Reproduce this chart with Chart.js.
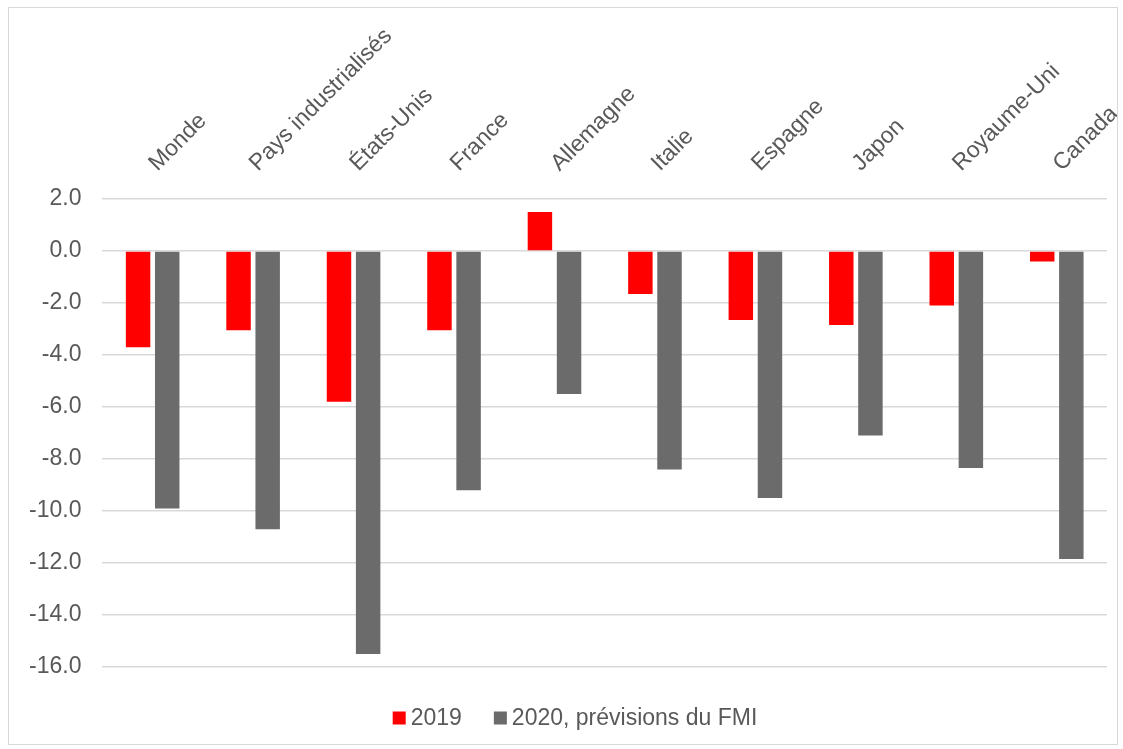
<!DOCTYPE html>
<html lang="fr">
<head>
<meta charset="utf-8">
<script src="https://cdn.jsdelivr.net/npm/chart.js@4"></script>
<style>
    html, body { margin: 0; padding: 0; background: #fff; }
    #wrap {
        position: absolute;
        left: 8px; top: 7px;
        width: 1108px; height: 736px;
        border: 1px solid #d9d9d9;
    }
</style>
</head>
<body>
<div id="wrap"><canvas id="chart"></canvas></div>
<script>
// Croissance du PIB (%)
const categories = ['Monde', 'Pays industrialisés', 'États-Unis', 'France', 'Allemagne', 'Italie', 'Espagne', 'Japon', 'Royaume-Uni', 'Canada'];
const values2019 = [-3.7, -3.05, -5.8, -3.05, 1.5, -1.65, -2.65, -2.85, -2.1, -0.4];
const values2020 = [-9.9, -10.7, -15.5, -9.2, -5.5, -8.4, -9.5, -7.1, -8.35, -11.85];
const seriesLabels = ['2019', '2020, prévisions du FMI'];

const family = '"Liberation Sans", Arial, sans-serif';
const textColor = '#595959';

// Legende facon Excel : petit carre colle au texte, centree sous le graphique
const bottomLegend = {
    id: 'bottomLegend',
    afterDraw: function(chart) {
        const ctx = chart.ctx;
        const box = 13, gap = 5, spacing = 32;
        ctx.save();
        ctx.font = '23px ' + family;
        ctx.textBaseline = 'middle';
        const items = chart.data.datasets.map(function(ds) {
            return { text: ds.label, color: ds.backgroundColor, w: ctx.measureText(ds.label).width };
        });
        let total = spacing * (items.length - 1);
        items.forEach(function(it) { total += box + gap + it.w; });
        let x = chart.width / 2 + 12 - total / 2;
        const y = chart.chartArea.bottom + 51;
        items.forEach(function(it) {
            ctx.fillStyle = it.color;
            ctx.fillRect(x, y - box / 2, box, box);
            ctx.fillStyle = textColor;
            ctx.fillText(it.text, x + box + gap, y + 1);
            x += box + gap + it.w + spacing;
        });
        ctx.restore();
    }
};

document.addEventListener('DOMContentLoaded', function() {
    new Chart(document.getElementById('chart'), {
        type: 'bar',
        data: {
            labels: categories,
            datasets: [
                {
                    label: seriesLabels[0],
                    data: values2019,
                    backgroundColor: '#ff0000',
                    categoryPercentage: 0.58,
                    barPercentage: 0.84
                },
                {
                    label: seriesLabels[1],
                    data: values2020,
                    backgroundColor: '#6b6b6b',
                    categoryPercentage: 0.58,
                    barPercentage: 0.84
                }
            ]
        },
        plugins: [bottomLegend],
        options: {
            responsive: true,
            maintainAspectRatio: false,
            animation: false,
            layout: { padding: { left: 20, right: 10, top: 0, bottom: 77 } },
            plugins: {
                legend: { display: false },
                tooltip: { enabled: false }
            },
            scales: {
                x: {
                    position: 'top',
                    grid: { display: false },
                    border: { display: false },
                    ticks: {
                        font: { family: family, size: 23 },
                        color: textColor,
                        minRotation: 45,
                        maxRotation: 45,
                        autoSkip: false,
                        padding: 14,
                        labelOffset: 20
                    },
                    afterFit: function(scale) {
                        scale.height = 191;
                        // les etiquettes peuvent deborder, pas de marge en plus
                        scale.paddingLeft = 0;
                        scale.paddingRight = 0;
                    }
                },
                y: {
                    min: -16,
                    max: 2,
                    grid: { color: '#d9d9d9', lineWidth: 1.5, drawTicks: false },
                    border: { display: false },
                    ticks: {
                        stepSize: 2,
                        font: { family: family, size: 23 },
                        color: textColor,
                        padding: 21,
                        callback: function(v) { return v.toFixed(1); }
                    },
                    // Chart.js compte le padding des graduations deux fois
                    afterFit: function(scale) { scale.width -= 21; }
                }
            }
        }
    });
});
</script>
</body>
</html>
